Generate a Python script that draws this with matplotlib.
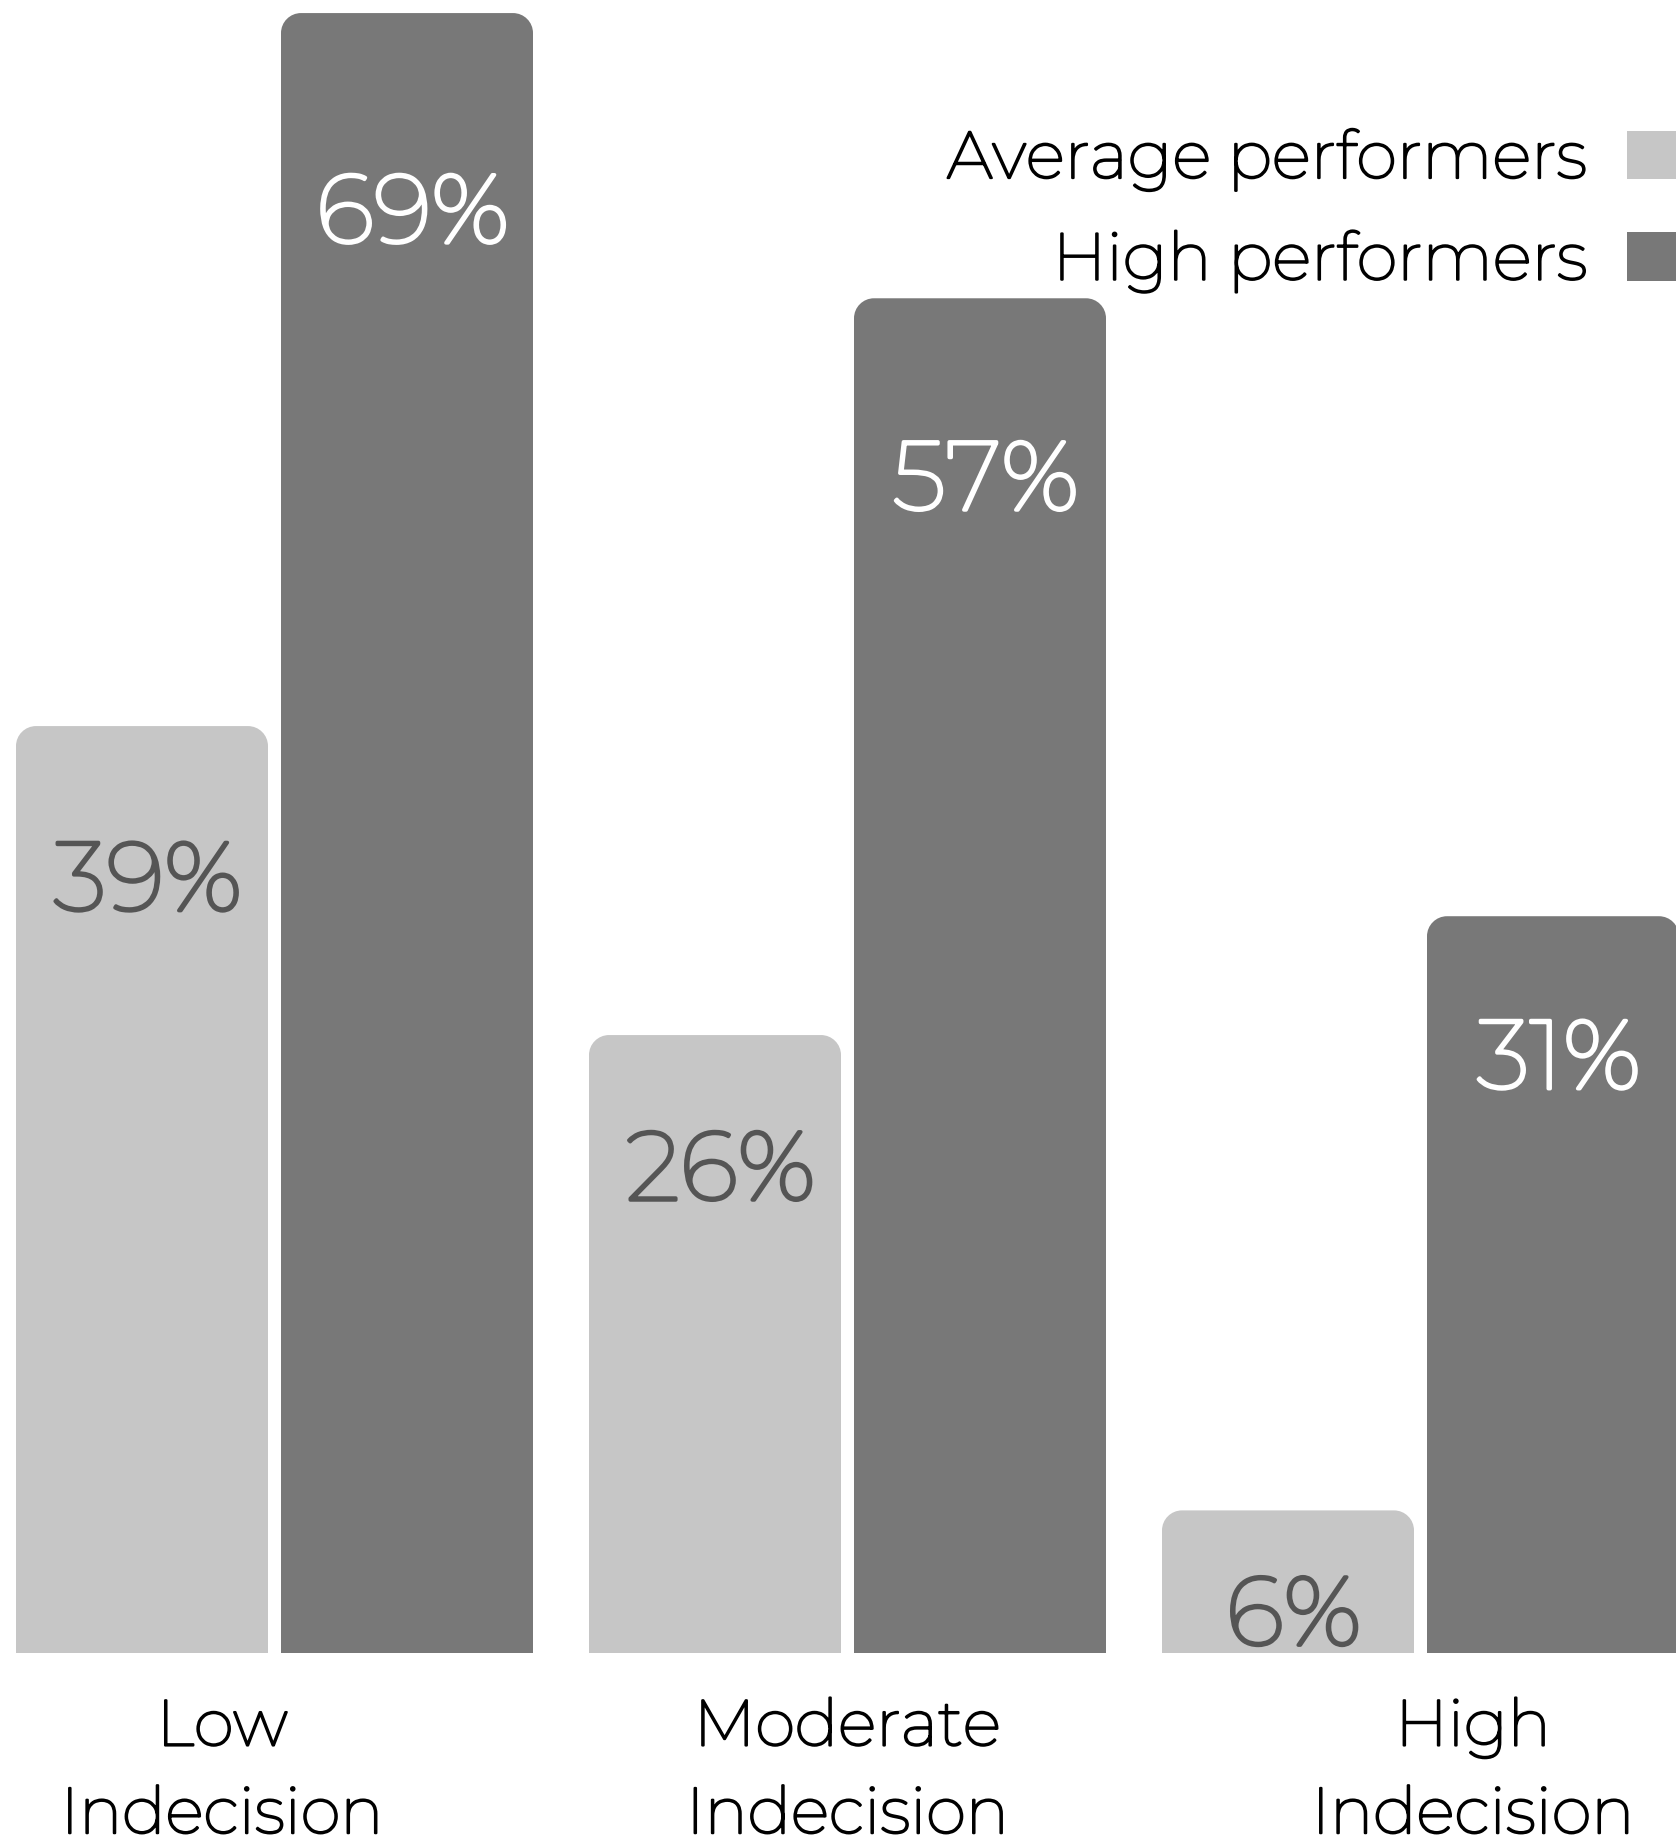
import numpy as np
import matplotlib
matplotlib.use("Agg")
import matplotlib.pyplot as plt
import matplotlib.patheffects as pe
from matplotlib.path import Path
from matplotlib.patches import PathPatch, Patch

plt.rcParams['font.family'] = ['Montserrat', 'DejaVu Sans']

# data
categories = ["Low\nIndecision", "Moderate\nIndecision", "High\nIndecision"]
series = ["Average performers", "High performers"]
average = [39, 26, 6]
high = [69, 57, 31]

c_light = "#c6c6c6"
c_dark = "#787878"

W, H = 1676, 1837
fig = plt.figure(figsize=(W / 100, H / 100), dpi=100)
base_px = 1653
ax = fig.add_axes([0, (H - base_px) / H, 1, base_px / H])
ymax = 69.55
ax.set_ylim(0, ymax)
step_px = 573
ax.set_xlim(-274.5 / step_px, (W - 274.5) / step_px)
ax.axis('off')

x = np.arange(len(categories))
width = 252 / step_px
off = 132.5 / step_px

b1 = ax.bar(x - off, average, width, color=c_light)
b2 = ax.bar(x + off, high, width, color=c_dark)

# round top corners (radius ~20px)
rx = 20 / step_px
ry = 20 / (base_px / ymax)
k = 0.5523


def round_top(rect):
    x0, y0 = rect.get_x(), rect.get_y()
    w, h = rect.get_width(), rect.get_height()
    t = y0 + h
    verts = [(x0, y0), (x0, t - ry),
             (x0, t - ry + k * ry), (x0 + rx - k * rx, t), (x0 + rx, t),
             (x0 + w - rx, t),
             (x0 + w - rx + k * rx, t), (x0 + w, t - ry + k * ry), (x0 + w, t - ry),
             (x0 + w, y0), (x0, y0)]
    codes = [Path.MOVETO, Path.LINETO,
             Path.CURVE4, Path.CURVE4, Path.CURVE4,
             Path.LINETO,
             Path.CURVE4, Path.CURVE4, Path.CURVE4,
             Path.LINETO, Path.CLOSEPOLY]
    p = PathPatch(Path(verts, codes), facecolor=rect.get_facecolor(),
                  edgecolor='none', clip_on=False)
    rect.set_visible(False)
    ax.add_patch(p)


for r in list(b1) + list(b2):
    round_top(r)


def bold(col, lw):
    # thicken the thin font a little
    return [pe.withStroke(linewidth=lw, foreground=col)]


# value labels
for bars, vals, col in [(b1, average, "#555555"), (b2, high, "white")]:
    for r, v in zip(bars, vals):
        cx = r.get_x() + r.get_width() / 2 + 0.01
        ax.text(cx, v - (4.15 + 0.0635 * v), f"{v}%", ha='center', va='center',
                fontsize=70, color=col, path_effects=bold(col, 2.6))

# category labels
for i, lab in enumerate(categories):
    lx = 1 + (i - 1) * 1.0916
    ax.text(lx, -1.85, lab, ha='center', va='top', fontsize=46.5,
            color='black', linespacing=1.54, clip_on=False,
            path_effects=bold('black', 1.6))

handles = [Patch(facecolor=c_light), Patch(facecolor=c_dark)]
leg = ax.legend(handles, series, loc='upper right', bbox_to_anchor=(1.0, 1 - 129 / base_px),
                frameon=False, markerfirst=False, fontsize=47.5,
                handlelength=0.75, handleheight=0.75, handletextpad=0.58,
                labelspacing=0.6, borderaxespad=0, borderpad=0)
for t in leg.get_texts():
    t.set_path_effects(bold('black', 1.6))

fig.savefig("out.png", dpi=100)
